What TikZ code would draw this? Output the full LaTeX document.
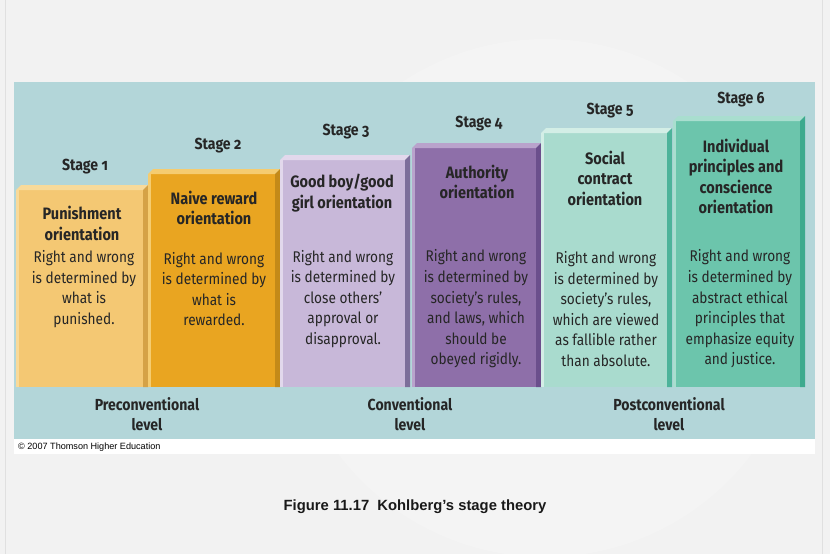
\documentclass[tikz,border=0pt]{standalone}
\usepackage{fontspec}
\setmainfont{Fira Sans}[Numbers=OldStyle, FakeStretch=0.88]
\newfontfamily\arialfont{Liberation Sans}
\definecolor{bgc}{HTML}{F2F2F2}
\definecolor{bgl}{HTML}{F4F4F4}
\definecolor{panel}{HTML}{B3D6D9}
\definecolor{txt}{HTML}{262626}
\definecolor{aF}{HTML}{F4C873}\definecolor{aT}{HTML}{F8DA9A}\definecolor{aS}{HTML}{D5A246}
\definecolor{bF}{HTML}{E9A521}\definecolor{bT}{HTML}{F5CC70}\definecolor{bS}{HTML}{C48A18}
\definecolor{cF}{HTML}{C8B8D9}\definecolor{cT}{HTML}{E2D8EC}\definecolor{cS}{HTML}{7C6E9A}
\definecolor{dF}{HTML}{8E6FA9}\definecolor{dT}{HTML}{B9A3CC}\definecolor{dS}{HTML}{6B4F8C}
\definecolor{eF}{HTML}{A9DBCE}\definecolor{eT}{HTML}{D3EEE6}\definecolor{eS}{HTML}{4DB39A}
\definecolor{fF}{HTML}{6CC5AC}\definecolor{fT}{HTML}{A9DECF}\definecolor{fS}{HTML}{3DAA8E}
\tikzset{
  stagelbl/.style={font=\fontsize{16}{18}\selectfont\bfseries, text=txt, inner sep=0pt},
  titlelbl/.style={font=\fontsize{16.5}{20.5}\selectfont\bfseries, text=txt, align=center, inner sep=0pt},
  bodylbl/.style={font=\fontsize{15.5}{20.6}\selectfont, text=txt, align=center, inner sep=0pt},
  levellbl/.style={font=\fontsize{16}{20}\selectfont\bfseries, text=txt, align=center, inner sep=0pt},
}
% bar: x0, x1, top, front, topface, side
\newcommand{\mybar}[6]{%
  \fill[#4] (#1,#3+5) rectangle (#2-5,387);
  \fill[#5] (#1,#3+5) -- (#1+5,#3) -- (#2,#3) -- (#2-5,#3+5) -- cycle;
  \fill[#6] (#2-5,#3+5) -- (#2,#3) -- (#2,387) -- (#2-5,387) -- cycle;
  \fill[#5] (#1,#3+5) rectangle (#1+2.5,387);
}
\begin{document}
\begin{tikzpicture}[x=1pt,y=-1pt]
\useasboundingbox (0,0) rectangle (830,554);
\fill[bgc] (0,0) rectangle (830,554);
\begin{scope}
\clip (0,0) rectangle (830,554);
\fill[bgl] (545,298) circle (259);
\end{scope}
\draw[white!88!black, line width=0.6pt] (5,0) -- (5,554) (822,0) -- (822,554);
% panel
\fill[panel] (14,82) rectangle (815,439);
\fill[white] (14,439) rectangle (815,454);
% bars
\mybar{16}{148}{185}{aF}{aT}{aS}
\mybar{148}{280}{169}{bF}{bT}{bS}
\mybar{280}{410}{155}{cF}{cT}{cS}
\mybar{412}{541}{143}{dF}{dT}{dS}
\mybar{541}{672}{128}{eF}{eT}{eS}
\mybar{673}{805}{116}{fF}{fT}{fS}
% stage labels
\node[stagelbl] (s1) at (85,167) {Stage 1};
\node[stagelbl] (s2) at (218,146) {Stage 2};
\node[stagelbl] (s3) at (346,132) {Stage 3};
\node[stagelbl] (s4) at (479,124) {Stage 4};
\node[stagelbl] (s5) at (610,111) {Stage 5};
\node[stagelbl] (s6) at (741,100) {Stage 6};
% titles
\node[titlelbl] (t1) at (82,223.5) {Punishment\\orientation};
\node[titlelbl] (t2) at (214,208) {Naive reward\\orientation};
\node[titlelbl] (t3) at (342,193) {Good boy/good\\girl orientation};
\node[titlelbl] (t4) at (477,182) {Authority\\orientation};
\node[titlelbl] (t5) at (605,178) {Social\\contract\\orientation};
\node[titlelbl] (t6) at (736,176.5) {Individual\\principles and\\conscience\\orientation};
% bodies
\node[bodylbl] (b1) at (84,289) {Right and wrong\\is determined by\\what is\\punished.};
\node[bodylbl] (b2) at (214,289) {Right and wrong\\is determined by\\what is\\rewarded.};
\node[bodylbl] (b3) at (343,299) {Right and wrong\\is determined by\\close others’\\approval or\\disapproval.};
\node[bodylbl] (b4) at (476,309) {Right and wrong\\is determined by\\society’s rules,\\and laws, which\\should be\\obeyed rigidly.};
\node[bodylbl] (b5) at (606,309) {Right and wrong\\is determined by\\society’s rules,\\which are viewed\\as fallible rather\\than absolute.};
\node[bodylbl] (b6) at (740,309) {Right and wrong\\is determined by\\abstract ethical\\principles that\\emphasize equity\\and justice.};
% levels
\node[levellbl] (l1) at (147,414) {Preconventional\\level};
\node[levellbl] (l2) at (410,414) {Conventional\\level};
\node[levellbl] (l3) at (669,414) {Postconventional\\level};
% copyright & caption
\node[anchor=west, inner sep=0pt, font=\arialfont\fontsize{9.1}{10}\selectfont, text=black] (cr) at (18,447) {© 2007 Thomson Higher Education};
\node[inner sep=0pt, font=\arialfont\bfseries\fontsize{14.8}{16}\selectfont, text=black!90] (cap) at (415,507) {Figure 11.17\ \ Kohlberg’s stage theory};
\end{tikzpicture}
\end{document}
